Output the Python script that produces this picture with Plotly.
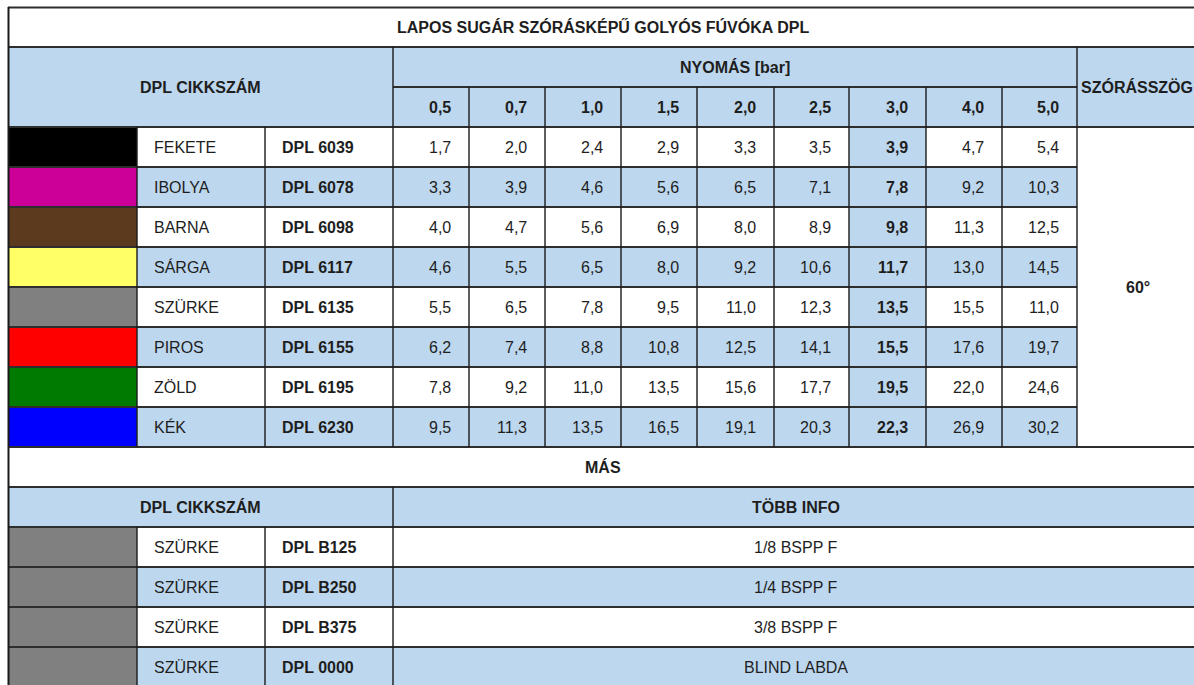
import plotly.graph_objects as go

# ---------------- data ----------------
title = "LAPOS SUGÁR SZÓRÁSKÉPŰ GOLYÓS FÚVÓKA DPL"
pressures = ["0,5", "0,7", "1,0", "1,5", "2,0", "2,5", "3,0", "4,0", "5,0"]
color_names = ["FEKETE", "IBOLYA", "BARNA", "SÁRGA", "SZÜRKE", "PIROS", "ZÖLD", "KÉK"]
codes = ["DPL 6039", "DPL 6078", "DPL 6098", "DPL 6117", "DPL 6135", "DPL 6155", "DPL 6195", "DPL 6230"]
swatches = ["#000000", "#CC0099", "#5C3A1E", "#FFFF66", "#808080", "#FF0000", "#007A00", "#0000FF"]
flow = [
    [1.7, 2.0, 2.4, 2.9, 3.3, 3.5, 3.9, 4.7, 5.4],
    [3.3, 3.9, 4.6, 5.6, 6.5, 7.1, 7.8, 9.2, 10.3],
    [4.0, 4.7, 5.6, 6.9, 8.0, 8.9, 9.8, 11.3, 12.5],
    [4.6, 5.5, 6.5, 8.0, 9.2, 10.6, 11.7, 13.0, 14.5],
    [5.5, 6.5, 7.8, 9.5, 11.0, 12.3, 13.5, 15.5, 11.0],
    [6.2, 7.4, 8.8, 10.8, 12.5, 14.1, 15.5, 17.6, 19.7],
    [7.8, 9.2, 11.0, 13.5, 15.6, 17.7, 19.5, 22.0, 24.6],
    [9.5, 11.3, 13.5, 16.5, 19.1, 20.3, 22.3, 26.9, 30.2],
]
angle = "60°"
other_names = ["SZÜRKE", "SZÜRKE", "SZÜRKE", "SZÜRKE"]
other_codes = ["DPL B125", "DPL B250", "DPL B375", "DPL 0000"]
other_swatches = ["#808080", "#808080", "#808080", "#808080"]
other_info = ["1/8 BSPP F", "1/4 BSPP F", "3/8 BSPP F", "BLIND LABDA"]
highlight_col = "3,0"

# ---------------- layout geometry ----------------
W, H = 1194, 685
BLUE = "#BDD7EE"
WHITE = "#FFFFFF"
TXT = "#1e1e1e"
HLINE = "#2e2e2e"
VLINE = "#1a1a1a"
FONT = "Liberation Sans, Arial, sans-serif"
FS = 16

x_sw, x_name, x_code, x_p0 = 8, 137, 265, 393
p_edges = [393, 469, 545, 621, 697, 774, 849, 926, 1002, 1077]
x_right = 1198
y_top = 7
RH = 40
y_title = (7, 47)
y_h1 = (47, 87)
y_h2 = (87, 127)
y_data0 = 127
y_mas = (447, 487)
y_h3 = (487, 527)
y_oth0 = 527

shapes = []
annos = []


def rect(x0, x1, y0, y1, fill):
    shapes.append(dict(type="rect", xref="x", yref="y", x0=x0, x1=x1, y0=y0, y1=y1,
                       fillcolor=fill, line=dict(width=0), layer="below"))


def hline(x0, x1, y, w=2, c=HLINE):
    shapes.append(dict(type="line", xref="x", yref="y", x0=x0, x1=x1, y0=y, y1=y,
                       line=dict(color=c, width=w)))


def vline(x, y0, y1, w=1.4, c=VLINE):
    shapes.append(dict(type="line", xref="x", yref="y", x0=x, x1=x, y0=y0, y1=y1,
                       line=dict(color=c, width=w)))


def text(s, x, y, anchor="center", bold=False):
    annos.append(dict(text=f"<b>{s}</b>" if bold else s, x=x, y=y, xref="x", yref="y",
                      xanchor=anchor, yanchor="middle", showarrow=False,
                      font=dict(family=FONT, size=FS, color=TXT)))


def fmt(v):
    return f"{v:.1f}".replace(".", ",")


# title
rect(x_sw, x_right, y_title[0], y_title[1], WHITE)
text(title, (x_sw + x_right) / 2, sum(y_title) / 2, bold=True)

# header
rect(x_sw, x_right, y_h1[0], y_h2[1], BLUE)
text("DPL CIKKSZÁM", (x_sw + x_p0) / 2, (y_h1[0] + y_h2[1]) / 2, bold=True)
text("NYOMÁS [bar]", (p_edges[0] + p_edges[-1]) / 2, sum(y_h1) / 2, bold=True)
text("SZÓRÁSSZÖG", (p_edges[-1] + x_right) / 2 - 1, (y_h1[0] + y_h2[1]) / 2, bold=True)
for j, p in enumerate(pressures):
    text(p, p_edges[j + 1] - 16, sum(y_h2) / 2, anchor="right", bold=True)

# data rows
n = len(color_names)
for i in range(n):
    y0 = y_data0 + i * RH
    y1 = y0 + RH
    yc = (y0 + y1) / 2
    bg = WHITE if i % 2 == 0 else BLUE
    rect(x_sw, x_name, y0, y1, swatches[i])
    rect(x_name, p_edges[-1], y0, y1, bg)
    text(color_names[i], x_name + 15, yc, anchor="left")
    text(codes[i], x_code + 15, yc, anchor="left", bold=True)
    for j, v in enumerate(flow[i]):
        hl = pressures[j] == highlight_col
        if hl:
            rect(p_edges[j], p_edges[j + 1], y0, y1, BLUE)
        text(fmt(v), p_edges[j + 1] - 16, yc, anchor="right", bold=hl)
y_data_end = y_data0 + n * RH
rect(p_edges[-1], x_right, y_data0, y_data_end, WHITE)
text(angle, (p_edges[-1] + x_right) / 2, (y_data0 + y_data_end) / 2, bold=True)

# MÁS
rect(x_sw, x_right, y_mas[0], y_mas[1], WHITE)
text("MÁS", (x_sw + x_right) / 2, sum(y_mas) / 2, bold=True)
rect(x_sw, x_right, y_h3[0], y_h3[1], BLUE)
text("DPL CIKKSZÁM", (x_sw + x_p0) / 2, sum(y_h3) / 2, bold=True)
text("TÖBB INFO", (x_p0 + x_right) / 2, sum(y_h3) / 2, bold=True)

m = len(other_names)
for i in range(m):
    y0 = y_oth0 + i * RH
    y1 = y0 + RH
    yc = (y0 + y1) / 2
    bg = WHITE if i % 2 == 0 else BLUE
    rect(x_sw, x_name, y0, y1, other_swatches[i])
    rect(x_name, x_right, y0, y1, bg)
    text(other_names[i], x_name + 15, yc, anchor="left")
    text(other_codes[i], x_code + 15, yc, anchor="left", bold=True)
    text(other_info[i], (x_p0 + x_right) / 2, yc)
y_end = y_oth0 + m * RH

# ---- grid lines ----
hline(x_sw, x_right, y_top + 0.5)
hline(x_sw, x_right, y_title[1])
hline(x_p0, p_edges[-1], y_h1[1])
hline(x_sw, x_right, y_h2[1])
for i in range(1, n):
    hline(x_sw, p_edges[-1], y_data0 + i * RH)
hline(x_sw, x_right, y_mas[0])
hline(x_sw, x_right, y_mas[1])
hline(x_sw, x_right, y_h3[1])
for i in range(1, m + 1):
    hline(x_sw, x_right, y_oth0 + i * RH)

vline(x_sw + 0.5, y_top, y_end, w=2)
vline(x_right, y_top, y_end, w=2)
vline(x_p0, y_h1[0], y_h2[1])
vline(p_edges[-1], y_h1[0], y_h2[1])
for x in p_edges[1:-1]:
    vline(x, y_h2[0], y_h2[1])
for x in [x_name, x_code] + p_edges:
    vline(x, y_data0, y_data_end)
vline(x_p0, y_h3[0], y_end)
for x in [x_name, x_code]:
    vline(x, y_oth0, y_end)

fig = go.Figure()
fig.update_layout(
    width=W, height=H,
    margin=dict(l=0, r=0, t=0, b=0),
    paper_bgcolor="white", plot_bgcolor="white",
    xaxis=dict(range=[0, W], visible=False, fixedrange=True),
    yaxis=dict(range=[H, 0], visible=False, fixedrange=True),
    shapes=shapes, annotations=annos, showlegend=False,
)
fig.write_html(
    "out.html",
    config={"displayModeBar": False},
    post_script="document.body.style.margin='0';document.body.style.overflow='hidden';",
)
